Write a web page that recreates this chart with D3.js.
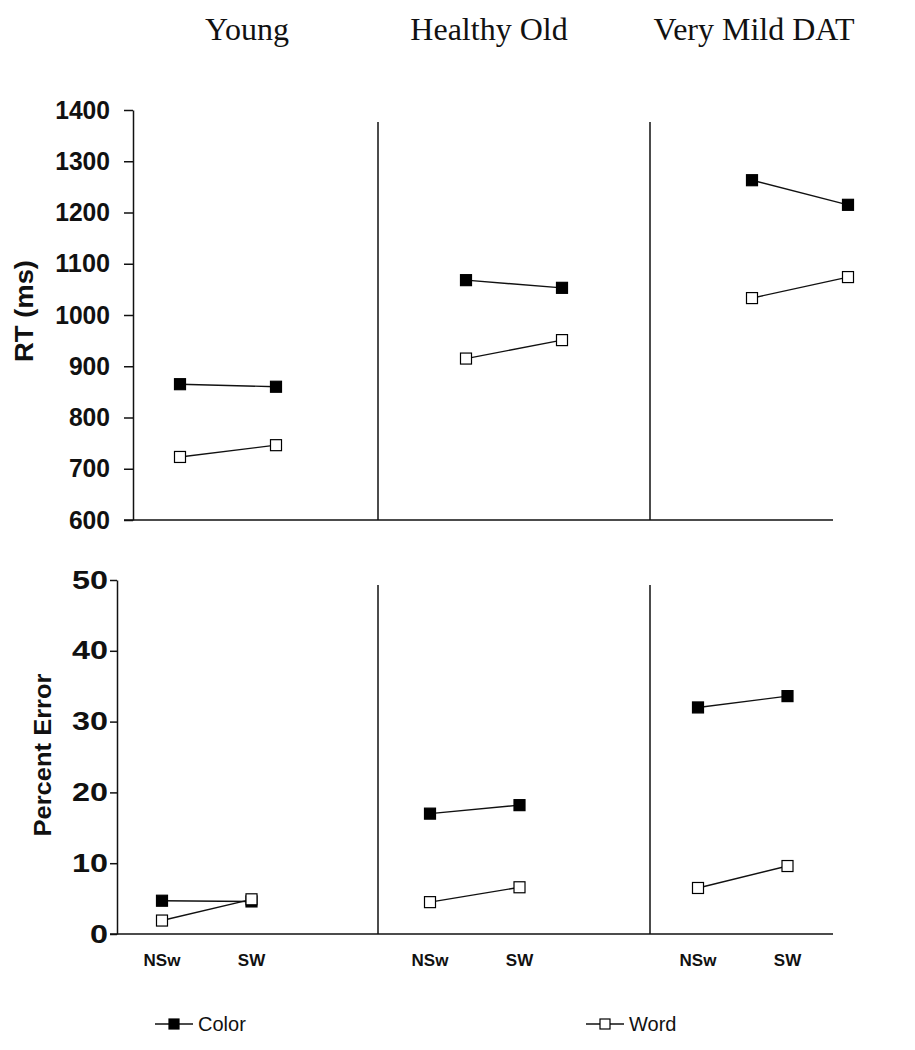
<!DOCTYPE html>
<html>
<head>
<meta charset="utf-8">
<script src="https://cdn.jsdelivr.net/npm/d3@7"></script>
<style>
  html, body { margin: 0; padding: 0; background: #fff; }
  svg { display: block; }
</style>
</head>
<body>
<div id="chart"></div>
<script>
// ---- data ----
const groups = ["Young", "Healthy Old", "Very Mild DAT"];
const conditions = ["NSw", "SW"];
const seriesNames = ["Color", "Word"];
// RT (ms): [NSw, SW] per group
const rtColor = [[865, 860], [1068, 1053], [1263, 1215]];
const rtWord  = [[723, 746], [915, 951], [1033, 1074]];
// Percent error: [NSw, SW] per group
const errColor = [[4.7, 4.6], [17.0, 18.2], [32.0, 33.6]];
const errWord  = [[1.9, 4.9], [4.5, 6.6], [6.5, 9.6]];
const rtTicks = [600, 700, 800, 900, 1000, 1100, 1200, 1300, 1400];
const errTicks = [0, 10, 20, 30, 40, 50];

// ---- layout ----
const W = 915, H = 1050;
const svg = d3.select("#chart").append("svg").attr("width", W).attr("height", H);
const sans = "'Liberation Sans', Arial, sans-serif";
const serif = "'Liberation Serif', 'Times New Roman', serif";
const ink = "#111";

const panels = [
  { colorData: rtColor, wordData: rtWord, ticks: rtTicks, domain: [600, 1400],
    axisX: 133, yRange: [520, 110], tickSize: 9, tickPad: 14, charW: 13.7,
    xAxisFrom: 124, xAxisTo: 833, bandW: 286, inner: [47, 143],
    divX: [378, 650], divTop: 122, title: "RT (ms)", titleX: 24, titleY: 311, titleLen: 102,
    titleSize: 26, xLabels: false },
  { colorData: errColor, wordData: errWord, ticks: errTicks, domain: [0, 50],
    axisX: 117, yRange: [934, 580], tickSize: 7, tickPad: 2, charW: 18,
    xAxisFrom: 110, xAxisTo: 833, bandW: 268, inner: [45, 134.5],
    divX: [378, 650], divTop: 585, title: "Percent Error", titleX: 43, titleY: 755, titleLen: 163,
    titleSize: 24, xLabels: true }
];

// Column titles
const titleCenters = [247, 489, 754];
svg.selectAll("text.coltitle").data(groups).join("text")
  .attr("class", "coltitle")
  .attr("x", (d, i) => titleCenters[i]).attr("y", 40)
  .attr("text-anchor", "middle")
  .attr("font-family", serif).attr("font-size", 32).attr("fill", ink)
  .text(d => d);

panels.forEach(p => {
  const y = d3.scaleLinear().domain(p.domain).range(p.yRange);
  const xg = d3.scaleBand().domain(groups)
    .range([p.axisX, p.axisX + p.bandW * groups.length]).padding(0);
  const xc = d3.scalePoint().domain(conditions).range(p.inner);
  const xPos = (g, c) => xg(g) + xc(c);

  const g = svg.append("g");

  // dividers
  g.selectAll("line.div").data(p.divX).join("line")
    .attr("x1", d => d).attr("x2", d => d)
    .attr("y1", p.divTop).attr("y2", p.yRange[0])
    .attr("stroke", ink).attr("stroke-width", 1.5);

  // x axis line
  g.append("line")
    .attr("x1", p.xAxisFrom).attr("x2", p.xAxisTo)
    .attr("y1", p.yRange[0]).attr("y2", p.yRange[0])
    .attr("stroke", ink).attr("stroke-width", 1.5);

  // y axis
  const ax = g.append("g").attr("transform", `translate(${p.axisX},0)`)
    .call(d3.axisLeft(y).tickValues(p.ticks).tickSize(p.tickSize)
      .tickSizeOuter(0).tickPadding(p.tickPad).tickFormat(d3.format("d")));
  ax.select(".domain").attr("stroke", ink).attr("stroke-width", 1.5);
  ax.selectAll(".tick line").attr("stroke", ink).attr("stroke-width", 1.5);
  ax.selectAll(".tick text")
    .attr("font-family", sans).attr("font-weight", "bold").attr("font-size", 25)
    .attr("fill", ink)
    .attr("textLength", d => String(d).length * p.charW)
    .attr("lengthAdjust", "spacingAndGlyphs");

  // y title
  g.append("text")
    .attr("transform", `translate(${p.titleX},${p.titleY}) rotate(-90)`)
    .attr("text-anchor", "middle").attr("dy", "0.35em")
    .attr("font-family", sans).attr("font-weight", "bold").attr("font-size", p.titleSize)
    .attr("textLength", p.titleLen).attr("lengthAdjust", "spacingAndGlyphs")
    .attr("fill", ink).text(p.title);

  // x labels
  if (p.xLabels) {
    groups.forEach(gr => {
      g.selectAll(null).data(conditions).join("text")
        .attr("x", c => xPos(gr, c)).attr("y", 966)
        .attr("text-anchor", "middle")
        .attr("font-family", sans).attr("font-weight", "bold").attr("font-size", 17)
        .attr("fill", ink).text(c => c);
    });
  }

  // series
  const series = [
    { name: seriesNames[0], data: p.colorData, fill: "#000" },
    { name: seriesNames[1], data: p.wordData, fill: "#fff" }
  ];
  const line = d3.line().x(d => d.x).y(d => d.y);
  series.forEach(s => {
    groups.forEach((gr, gi) => {
      const pts = conditions.map((c, ci) => ({ x: xPos(gr, c), y: y(s.data[gi][ci]) }));
      g.append("path").attr("d", line(pts))
        .attr("fill", "none").attr("stroke", ink).attr("stroke-width", 1.4);
      g.selectAll(null).data(pts).join("rect")
        .attr("x", d => d.x - 5.5).attr("y", d => d.y - 5.5)
        .attr("width", 11).attr("height", 11)
        .attr("fill", s.fill).attr("stroke", "#000").attr("stroke-width", 1.2);
    });
  });
});

// legend
const legendX = [155, 586];
const legendFill = ["#000", "#fff"];
const lg = svg.append("g");
seriesNames.forEach((name, i) => {
  const x0 = legendX[i], yc = 1024;
  lg.append("line").attr("x1", x0).attr("x2", x0 + 38).attr("y1", yc).attr("y2", yc)
    .attr("stroke", ink).attr("stroke-width", 1.4);
  lg.append("rect").attr("x", x0 + 19 - 5).attr("y", yc - 5).attr("width", 10).attr("height", 10)
    .attr("fill", legendFill[i]).attr("stroke", "#000").attr("stroke-width", 1.2);
  lg.append("text").attr("x", x0 + 43).attr("y", yc + 7)
    .attr("font-family", sans).attr("font-size", 20).attr("fill", ink).text(name);
});
</script>
</body>
</html>
